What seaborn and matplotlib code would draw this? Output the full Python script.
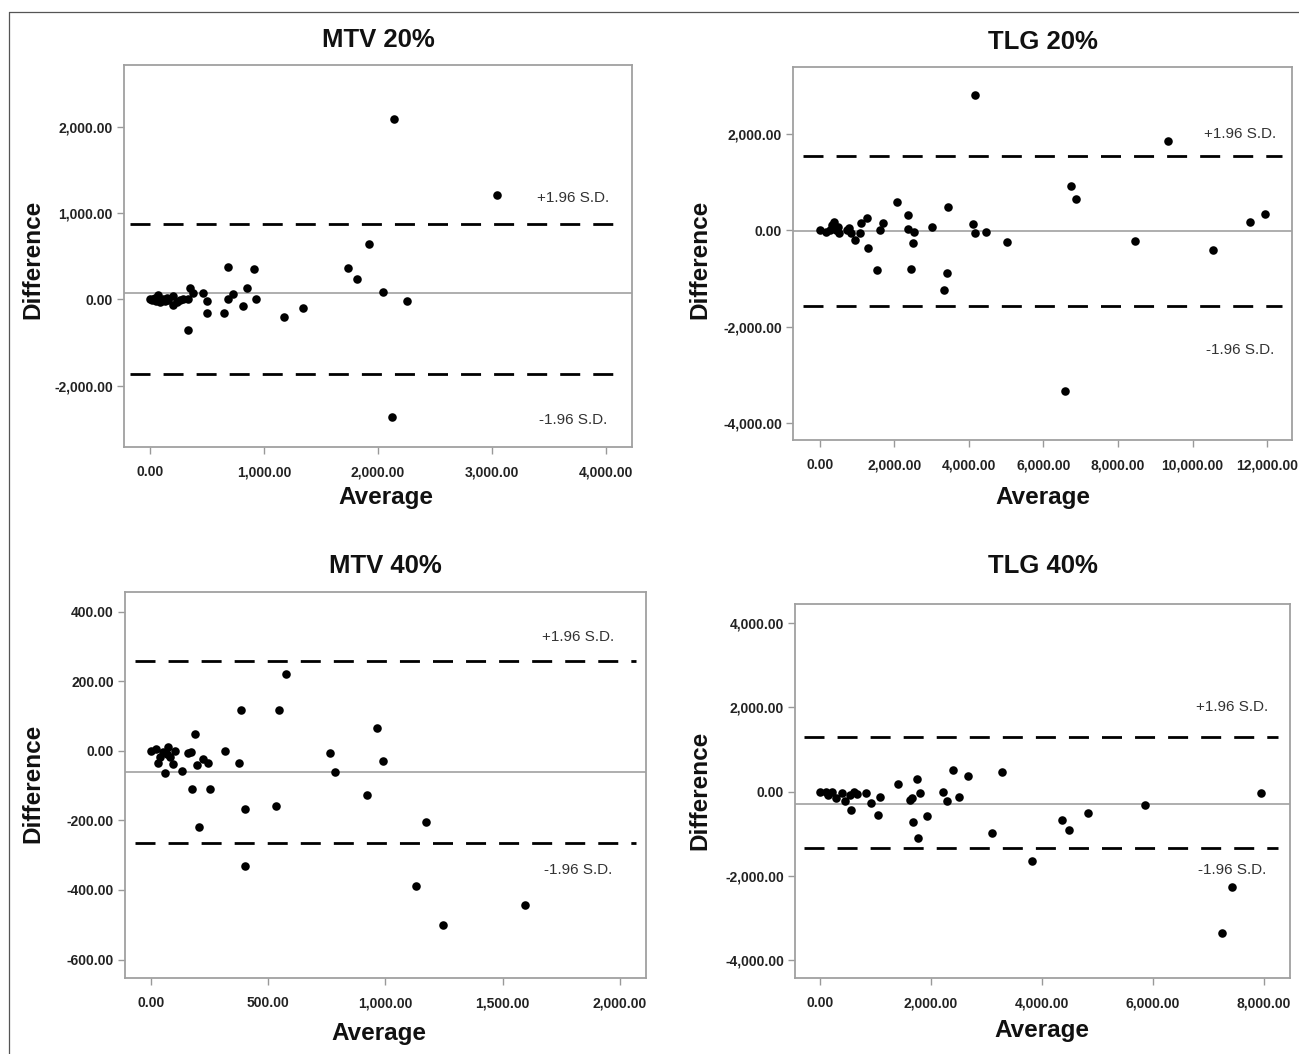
import numpy as np
import matplotlib
matplotlib.use("Agg")
import matplotlib.pyplot as plt
from matplotlib.lines import Line2D
import seaborn as sns

sns.set_style("white")
plt.rcParams['font.family'] = ['Liberation Sans', 'DejaVu Sans']

# ---- data ----
# MTV 20%
mtv20_avg = [0, 44, 73, 88, 117, 146, 205, 205, 234, 292, 336, 351, 380, 468, 497,
             336, 503, 649, 687, 687, 725, 819, 848, 912, 930, 1175, 1345, 1740,
             1819, 1918, 2041, 2251, 2140, 3041, 2120, 20, 55, 100, 130, 160, 260, 30]
mtv20_diff = [0, 11, 50, -27, 0, 11, 38, -66, -27, 0, 0, 127, 69, 77, -15,
              -356, -162, -162, 378, 0, 58, -77, 131, 347, 0, -201, -104, 367,
              239, 637, 85, -19, 2089, 1208, -1359, -10, -20, -15, -20, -5, -10, 5]
mtv20_lines = [73, 870, -865]
mtv20_yticks = [2000, 1000, 0, -1000]
mtv20_ylabels = ["2,000.00", "1,000.00", "0.00", "-2,000.00"]
mtv20_xticks = [0, 1000, 2000, 3000, 4000]

# TLG 20%
tlg20_avg = [4163, 9329, 6732, 6867, 11952, 11549, 8460, 10537, 6589, 5031, 4100, 4172,
             4449, 3447, 3411, 3330, 2999, 2444, 2489, 2533, 2364, 2355, 2077, 1540,
             1692, 1620, 1307, 1271, 1101, 1092, 958, 851, 788, 734, 519, 492, 376,
             340, 269, 179, 0, 448]
tlg20_diff = [2807, 1848, 924, 641, 331, 172, -214, -407, -3324, -234, 138, -48,
              -34, 483, -883, -1234, 62, -793, -269, -34, 317, 34, 586, -828,
              152, 0, -359, 262, 152, -55, -207, -48, 48, 0, -55, 69, 166,
              103, 0, -34, 0, 0]
tlg20_lines = [-10, 1538, -1572]
tlg20_yticks = [2000, 0, -2000, -4000]
tlg20_xticks = [0, 2000, 4000, 6000, 8000, 10000, 12000]

# MTV 40%
mtv40_avg = [574, 385, 546, 964, 188, 762, 989, 786, 922, 1173, 533, 399, 399, 1131,
             1596, 1244, 203, 175, 252, 374, 316, 198, 223, 245, 132, 61, 156, 171,
             95, 102, 74, 53, 38, 31, 20, 0, 81, 67]
mtv40_diff = [220, 116, 116, 64, 47, -6, -30, -60, -126, -206, -158, -167, -331, -388,
              -444, -502, -219, -111, -111, -34, -1, -42, -25, -36, -58, -65, -6, -3,
              -38, 0, 11, -3, -17, -36, 5, 0, -17, -8]
mtv40_lines = [-60, 258, -266]
mtv40_yticks = [400, 200, 0, -200, -400, -600]
mtv40_xticks = [0, 500, 1000, 1500, 2000]

# TLG 40%
tlg40_avg = [7946, 7417, 7243, 5850, 4823, 4366, 4486, 3826, 3093, 3285, 2667, 2396,
             2498, 2294, 2210, 1928, 1802, 1748, 1772, 1670, 1664, 1616, 1399, 1081,
             1039, 925, 823, 661, 613, 559, 450, 390, 282, 210, 150, 108, 0, 541]
tlg40_diff = [-32, -2281, -3374, -325, -523, -681, -911, -1648, -998, 475, 372, 515,
              -135, -222, -8, -586, -32, 293, -1109, -737, -158, -198, 190, -135,
              -562, -277, -40, -71, 0, -436, -222, -24, -143, 0, -79, 0, 0, -79]
tlg40_lines = [-301, 1307, -1354]
tlg40_yticks = [4000, 2000, 0, -2000, -4000]
tlg40_xticks = [0, 2000, 4000, 6000, 8000]


def fmt(v):
    return f"{v:,.2f}"


fig = plt.figure(figsize=(12.99, 10.54), dpi=100)

panels = [
    # title, x, y, lines, xticks, yticks, ylabels, rect, xlim, ylim, dash span, sd text pos, label coords
    ("MTV 20%", mtv20_avg, mtv20_diff, mtv20_lines, mtv20_xticks, mtv20_yticks, mtv20_ylabels,
     [0.0955, 0.5759, 0.3911, 0.3624], (-228, 4228), (-1711, 2715), (0.012, 0.967),
     (3711, 1174, -1399), (-0.179, 0.492, 0.516, -0.1335), 13),
    ("TLG 20%", tlg20_avg, tlg20_diff, tlg20_lines, tlg20_xticks, tlg20_yticks, None,
     [0.6105, 0.5825, 0.3841, 0.3539], (-716, 12668), (-4345, 3379), (0.02, 0.98),
     (11280, 1986, -2483), (-0.186, 0.485, 0.501, -0.155), 13),
    ("MTV 40%", mtv40_avg, mtv40_diff, mtv40_lines, mtv40_xticks, mtv40_yticks, None,
     [0.0962, 0.0721, 0.4011, 0.3662], (-111, 2111), (-653, 456), (0.02, 0.98),
     (1821, 326, -342), (-0.177, 0.505, 0.4875, -0.1425), 14),
    ("TLG 40%", tlg40_avg, tlg40_diff, tlg40_lines, tlg40_xticks, tlg40_yticks, None,
     [0.612, 0.0721, 0.381, 0.3548], (-450, 8468), (-4436, 4459), (0.018, 0.976),
     (7423, 2012, -1861), (-0.192, 0.503, 0.499, -0.1417), 22),
]

for (title, xs, ys, lines, xticks, yticks, ylabels, rect, xlim, ylim, span,
     sd, lab, tpad) in panels:
    ax = fig.add_axes(rect)
    mean, upper, lower = lines
    ax.axhline(mean, color="#a8a8a8", lw=1.3, zorder=1)
    for v in (upper, lower):
        ax.axhline(v, xmin=span[0], xmax=span[1], color="black", lw=2.0,
                   dashes=(7.2, 4.7), zorder=1)
    sns.scatterplot(x=xs, y=ys, ax=ax, color="black", s=38, linewidth=0, zorder=3)

    ax.set_xlim(*xlim)
    ax.set_ylim(*ylim)
    ax.set_xticks(xticks)
    ax.set_xticklabels([fmt(v) for v in xticks])
    ax.set_yticks(yticks)
    ax.set_yticklabels(ylabels if ylabels else [fmt(v) for v in yticks])
    for lbl in ax.get_xticklabels() + ax.get_yticklabels():
        lbl.set_fontweight("bold")
    ax.tick_params(axis="both", direction="out", length=5, width=1.0, color="#999999",
                   labelsize=10, labelcolor="#222222", left=True, bottom=True)
    ax.tick_params(axis="x", pad=8)
    ax.tick_params(axis="y", pad=3)
    for sp in ax.spines.values():
        sp.set_color("#a0a0a0")
        sp.set_linewidth(1.3)

    ax.text(sd[0], sd[1], "+1.96 S.D.", ha="center", va="center", fontsize=11, color="#333333")
    ax.text(sd[0], sd[2], "-1.96 S.D.", ha="center", va="center", fontsize=11, color="#333333")

    ax.set_title(title, fontsize=18.5, fontweight="bold", pad=tpad, color="#111111")
    ax.set_ylabel("Difference", fontsize=17.5, fontweight="bold", va="center", color="#111111")
    ax.set_xlabel("Average", fontsize=17.5, fontweight="bold", va="center", color="#111111")
    ax.yaxis.set_label_coords(lab[0], lab[1])
    ax.xaxis.set_label_coords(lab[2], lab[3])

# thin outer frame (top and left edges)
fig.add_artist(Line2D([9 / 1299, 1.0], [1 - 12 / 1054, 1 - 12 / 1054],
                      transform=fig.transFigure, color="#555555", lw=0.9))
fig.add_artist(Line2D([9 / 1299, 9 / 1299], [0.0, 1 - 12 / 1054],
                      transform=fig.transFigure, color="#555555", lw=0.9))

fig.savefig("out.png", dpi=100)
